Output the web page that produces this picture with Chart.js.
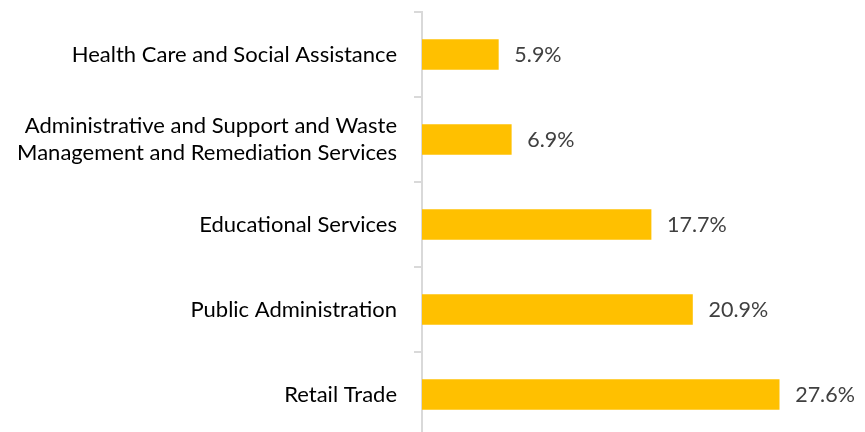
<!DOCTYPE html>
<html>
<head>
<meta charset="utf-8">
<script src="https://cdn.jsdelivr.net/npm/chart.js@4"></script>
<style>
  html, body { margin: 0; padding: 0; background: #fff; overflow: hidden; }
</style>
</head>
<body>
<canvas id="chart" width="865" height="440"></canvas>
<script>
const categories = [
  'Health Care and Social Assistance',
  ['Administrative and Support and Waste', 'Management and Remediation Services'],
  'Educational Services',
  'Public Administration',
  'Retail Trade'
];
const shares = [5.9, 6.9, 17.7, 20.9, 27.6];

const FONT = 'Lato, "Open Sans", sans-serif';

// draws the "x.x%" text to the right of each bar
const valueLabels = {
  id: 'valueLabels',
  afterDatasetsDraw(chart) {
    const ctx = chart.ctx;
    const meta = chart.getDatasetMeta(0);
    ctx.save();
    ctx.font = '21.5px ' + FONT;
    ctx.fillStyle = '#404040';
    ctx.textAlign = 'left';
    ctx.textBaseline = 'middle';
    meta.data.forEach((bar, i) => {
      ctx.fillText(shares[i].toFixed(1) + '%', bar.x + 16, bar.y + 1);
    });
    ctx.restore();
  }
};

new Chart(document.getElementById('chart'), {
  type: 'bar',
  data: {
    labels: categories,
    datasets: [{
      data: shares,
      backgroundColor: '#FFC000',
      barThickness: 30
    }]
  },
  options: {
    indexAxis: 'y',
    responsive: false,
    animation: false,
    layout: { padding: { top: 12, bottom: 3, right: 3 } },
    scales: {
      x: {
        display: false,
        min: 0,
        max: 34
      },
      y: {
        afterFit(scale) {
          scale.width = 422;
          scale.paddingTop = 0;
          scale.paddingBottom = 0;
        },
        grid: {
          offset: true,
          drawOnChartArea: false,
          tickLength: 8,
          color: '#d9d9d9',
          lineWidth: 2
        },
        border: { color: '#d9d9d9', width: 2 },
        ticks: {
          padding: 17,
          color: '#000',
          font: { family: FONT, size: 22, lineHeight: 1.2 }
        }
      }
    },
    plugins: {
      legend: { display: false },
      tooltip: { enabled: false }
    }
  },
  plugins: [valueLabels]
});
</script>
</body>
</html>
